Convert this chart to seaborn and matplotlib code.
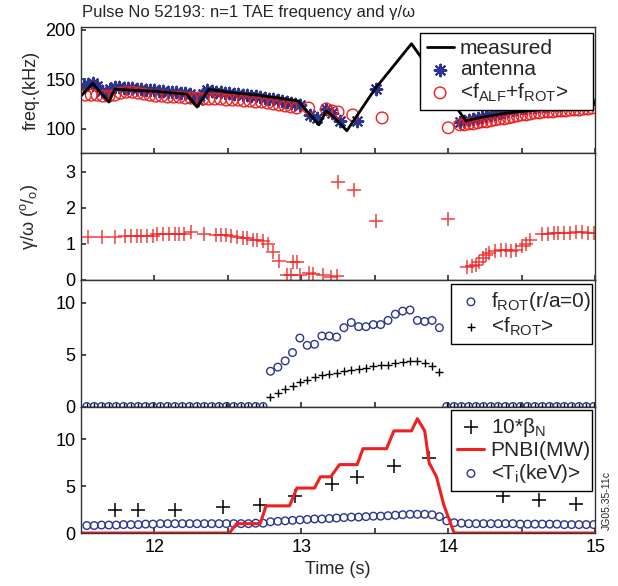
import matplotlib
matplotlib.use("Agg")
import matplotlib.pyplot as plt
import seaborn as sns

# --- panel 1: n=1 TAE frequency (kHz) ---
meas_t = [11.5, 11.58, 11.69, 11.73, 11.85, 12.0, 12.22, 12.29, 12.37, 12.5, 12.7, 12.85, 12.98,
          13.12, 13.17, 13.22, 13.31, 13.5, 13.75, 14.12, 14.2, 14.4, 14.6, 14.8, 15.0]
meas_f = [133, 146, 127, 140, 139, 138, 135, 122, 140, 137, 134, 131, 128,
          104, 118, 112, 98, 140, 186, 108, 111, 116, 119, 122, 126]

ant_t = [11.52, 11.55, 11.58, 11.61, 11.64, 11.67, 11.70, 11.73, 11.76, 11.79,
         11.82, 11.85, 11.88, 11.91, 11.94, 11.97, 12.00, 12.03, 12.06, 12.09,
         12.12, 12.15, 12.18, 12.21, 12.24, 12.27, 12.30, 12.33, 12.36, 12.39,
         12.42, 12.45, 12.48, 12.51, 12.54, 12.57, 12.60, 12.63, 12.66, 12.69,
         12.72, 12.75, 12.78, 12.81, 12.84, 12.87, 12.90, 12.93, 12.96, 12.99,
         13.06, 13.11, 13.17, 13.21, 13.26, 13.38, 13.51,
         14.08, 14.11, 14.14, 14.17, 14.20, 14.23, 14.26, 14.29, 14.32, 14.35,
         14.38, 14.41, 14.44, 14.47, 14.50, 14.53, 14.56, 14.59, 14.62, 14.65,
         14.68, 14.71, 14.74, 14.77, 14.80, 14.83, 14.86, 14.89, 14.92, 14.95, 14.98]
ant_f = [143, 145, 146, 143, 138, 136, 140, 142, 142, 141,
         141, 141, 140, 140, 139, 139, 139, 138, 138, 137,
         137, 137, 136, 136, 135, 131, 129, 135, 139, 138,
         137, 137, 136, 136, 135, 135, 134, 134, 133, 133,
         132, 131, 130, 130, 129, 128, 127, 126, 125, 124,
         114, 111, 120, 116, 108, 108, 140,
         107, 108, 109, 110, 111, 112, 113, 114, 115, 116,
         117, 118, 119, 120, 121, 121, 122, 122, 123, 123,
         123, 124, 124, 124, 125, 125, 125, 126, 126, 127, 127]

alf_t = [11.53, 11.57, 11.61, 11.65, 11.69, 11.73, 11.77, 11.81, 11.85, 11.89,
         11.93, 11.97, 12.01, 12.05, 12.09, 12.13, 12.17, 12.21, 12.25, 12.29,
         12.33, 12.37, 12.41, 12.45, 12.49, 12.53, 12.57, 12.61, 12.65, 12.69,
         12.73, 12.77, 12.81, 12.85, 12.89, 12.93, 12.97,
         13.05, 13.17, 13.21, 13.25, 13.35, 13.55, 14.00,
         14.08, 14.11, 14.14, 14.17, 14.20, 14.23, 14.26, 14.29, 14.32, 14.35,
         14.38, 14.41, 14.44, 14.47, 14.50, 14.53, 14.56, 14.59, 14.62, 14.65,
         14.68, 14.71, 14.74, 14.77, 14.80, 14.83, 14.86, 14.89, 14.92, 14.95, 14.98]
alf_f = [134, 134, 134, 133, 133, 134, 136, 137, 137, 136,
         135, 134, 133, 133, 132, 132, 132, 131, 131, 131,
         130, 130, 130, 130, 129, 129, 129, 128, 128, 127,
         127, 126, 125, 124, 123, 122, 121,
         121, 120, 118, 117, 114, 111, 101,
         104, 104, 105, 105, 106, 107, 107, 108, 109, 110,
         110, 111, 112, 113, 114, 114, 115, 116, 116, 117,
         117, 117, 118, 118, 118, 119, 119, 119, 120, 120, 121]

# --- panel 2: gamma/omega (%) ---
gam_t = [11.55, 11.64, 11.73, 11.80, 11.84, 11.88, 11.91, 11.95, 11.99, 12.02,
         12.06, 12.10, 12.14, 12.17, 12.20, 12.25, 12.34, 12.42, 12.45, 12.49,
         12.52, 12.56, 12.60, 12.63, 12.67, 12.70, 12.74, 12.77, 12.81, 12.85,
         12.90, 12.93, 12.94, 12.97, 12.99, 13.05, 13.08, 13.15, 13.20, 13.24,
         13.25, 13.36, 13.51, 14.00, 14.13, 14.16, 14.19, 14.21, 14.24, 14.26,
         14.28, 14.32, 14.36, 14.39, 14.43, 14.46, 14.50, 14.53, 14.56, 14.64,
         14.68, 14.72, 14.75, 14.79, 14.83, 14.87, 14.91, 14.95, 14.99]
gam_w = [1.18, 1.18, 1.18, 1.23, 1.23, 1.23, 1.22, 1.22, 1.22, 1.28,
         1.28, 1.28, 1.28, 1.28, 1.28, 1.33, 1.28, 1.25, 1.25, 1.24,
         1.22, 1.18, 1.17, 1.15, 1.12, 1.10, 1.08, 1.0, 0.78, 0.52,
         0.15, 0.15, 0.5, 0.5, 0.15, 0.18, 0.17, 0.14, 0.08, 0.12,
         2.7, 2.5, 1.63, 1.7, 0.35, 0.38, 0.42, 0.5, 0.6, 0.7,
         0.75, 0.8, 0.82, 0.82, 0.8, 0.82, 0.95, 1.0, 1.1, 1.27,
         1.28, 1.3, 1.3, 1.3, 1.3, 1.32, 1.32, 1.3, 1.3]

# --- panels 3 and 4: profile time base ---
prof_t = [11.54, 11.59, 11.64, 11.69, 11.74, 11.79, 11.84, 11.89, 11.94, 11.99,
          12.04, 12.09, 12.14, 12.19, 12.24, 12.29, 12.34, 12.39, 12.44, 12.49,
          12.54, 12.59, 12.64, 12.69, 12.74, 12.79, 12.84, 12.89, 12.94, 12.99,
          13.04, 13.09, 13.14, 13.19, 13.24, 13.29, 13.34, 13.39, 13.44, 13.49,
          13.54, 13.59, 13.64, 13.69, 13.74, 13.79, 13.84, 13.89, 13.94, 13.99,
          14.04, 14.09, 14.14, 14.19, 14.24, 14.29, 14.34, 14.39, 14.44, 14.49,
          14.54, 14.59, 14.64, 14.69, 14.74, 14.79, 14.84, 14.89, 14.94, 14.99]
frot_core = [0.0] * 25 + [3.4, 3.8, 4.4, 5.2, 6.6, 5.9, 6.0, 6.8, 6.8, 6.7, 7.6, 8.1,
                          7.7, 7.7, 7.9, 7.9, 8.3, 8.9, 9.2, 9.3, 8.3, 8.2, 8.3, 7.6] + [0.0] * 21
frot_avg = [0.0] * 25 + [0.9, 1.3, 1.7, 2.0, 2.4, 2.6, 2.8, 3.0, 3.1, 3.2, 3.4, 3.5,
                         3.6, 3.7, 3.9, 4.0, 4.0, 4.2, 4.3, 4.4, 4.4, 4.2, 3.9, 3.3] + [0.0] * 21
ti_avg = [0.8, 0.8, 0.85, 0.85, 0.85, 0.9, 0.9, 0.9, 0.95, 0.95,
          1.0, 1.0, 1.0, 1.0, 1.0, 1.0, 1.0, 1.0, 1.0, 1.0,
          1.0, 1.0, 1.0, 1.05, 1.05, 1.2, 1.25, 1.3, 1.35, 1.4,
          1.45, 1.5, 1.5, 1.55, 1.6, 1.65, 1.7, 1.7, 1.75, 1.8,
          1.8, 1.85, 1.9, 1.95, 2.0, 2.0, 2.0, 1.95, 1.75, 1.3,
          1.1, 1.05, 1.0, 1.0, 1.0, 1.0, 1.0, 1.0, 1.0, 0.95,
          0.95, 0.95, 0.95, 0.95, 0.95, 0.9, 0.9, 0.9, 0.9, 0.9]

beta_t = [11.73, 11.89, 12.14, 12.47, 12.72, 12.96, 13.21, 13.38, 13.63, 13.87, 14.37, 14.62, 14.87]
beta_n10 = [2.5, 2.5, 2.5, 2.8, 3.0, 4.0, 5.2, 6.0, 7.1, 8.0, 3.9, 3.5, 3.1]

pnbi_t = [11.5, 12.51, 12.56, 12.72, 12.76, 12.92, 12.97, 13.09, 13.13, 13.2, 13.26, 13.38,
          13.42, 13.58, 13.63, 13.75, 13.79, 13.84, 13.87, 13.92, 13.97, 14.04, 15.0]
pnbi_mw = [0, 0, 1.0, 1.0, 2.9, 2.9, 4.8, 4.8, 6.0, 6.0, 7.3, 7.3,
           9.0, 9.0, 10.9, 10.9, 12.2, 10.9, 7.5, 6.0, 3.0, 0, 0]

x_ticks = [12, 12.5, 13, 13.5, 14, 14.5, 15]
x_ticklabels = ["12", "", "13", "", "14", "", "15"]

NAVY = "#2b3590"
RED = "#ee2020"

sns.set_theme(style="ticks")
plt.rcParams.update({
    "font.family": ["Liberation Sans", "DejaVu Sans"],
    "mathtext.fontset": "custom",
    "mathtext.rm": "Liberation Sans",
    "mathtext.it": "Liberation Sans:italic",
    "xtick.direction": "in",
    "ytick.direction": "in",
    "xtick.major.size": 3.5,
    "ytick.major.size": 3.5,
    "axes.edgecolor": "#333333",
    "axes.linewidth": 1.0,
    "xtick.labelsize": 13,
    "ytick.labelsize": 13,
})

fig, axes = plt.subplots(4, 1, sharex=True, figsize=(6.18, 5.86), dpi=100,
                         gridspec_kw=dict(hspace=0))
fig.subplots_adjust(left=0.131, right=0.963, top=0.954, bottom=0.0904)
ax1, ax2, ax3, ax4 = axes

leg_kw = dict(loc="upper left", mode="expand", borderaxespad=0, fontsize=15, frameon=True,
              fancybox=False, framealpha=1, edgecolor="black", handlelength=1.3,
              handletextpad=0.3, labelspacing=0.1, borderpad=0.3)

# panel 1
sns.lineplot(x=meas_t, y=meas_f, color="black", lw=2, sort=False, estimator=None, ax=ax1,
             label="measured")
sns.scatterplot(x=ant_t, y=ant_f, marker=(8, 2, 0), s=70, color=NAVY, linewidth=1.5, ax=ax1,
                label="antenna")
sns.scatterplot(x=alf_t, y=alf_f, marker="o", s=70, facecolor="none", edgecolor=RED,
                linewidth=1.0, ax=ax1, label=r"<f$_{\mathrm{ALF}}$+f$_{\mathrm{ROT}}$>")
ax1.set_ylim(75, 203)
ax1.set_yticks([100, 150, 200])
ax1.set_ylabel("freq.(kHz)", fontsize=13)
ax1.legend(bbox_to_anchor=(0.66, 0.953, 0.335, 0), **leg_kw)

# panel 2
sns.scatterplot(x=gam_t, y=gam_w, marker="+", s=110, color=RED, linewidth=1.1, alpha=0.85, ax=ax2)
ax2.set_ylim(0, 3.5)
ax2.set_yticks([0, 1, 2, 3])
ax2.set_ylabel(r"γ/ω ($^{\mathrm{o}}$/$_{\mathrm{o}}$)", fontsize=13)

# panel 3
sns.scatterplot(x=prof_t, y=frot_core, marker="o", s=30, facecolor="none", edgecolor=NAVY,
                linewidth=1.0, ax=ax3, label=r"f$_{\mathrm{ROT}}$(r/a=0)")
sns.scatterplot(x=prof_t, y=frot_avg, marker="+", s=40, color="black", linewidth=1.0, ax=ax3,
                label=r"<f$_{\mathrm{ROT}}$>")
ax3.set_ylim(0, 12.2)
ax3.set_yticks([0, 5, 10])
ax3.legend(bbox_to_anchor=(0.72, 0.968, 0.274, 0), **leg_kw)

# panel 4
sns.scatterplot(x=prof_t, y=ti_avg, marker="o", s=30, facecolor="none", edgecolor=NAVY,
                linewidth=1.0, ax=ax4, label=r"<T$_{\mathrm{i}}$(keV)>")
sns.lineplot(x=pnbi_t, y=pnbi_mw, color=RED, lw=2.2, sort=False, estimator=None, ax=ax4,
             label="PNBI(MW)")
sns.scatterplot(x=beta_t, y=beta_n10, marker="+", s=110, color="black", linewidth=1.1, ax=ax4,
                label=r"10*β$_{\mathrm{N}}$")
ax4.set_ylim(0, 13.5)
ax4.set_yticks([0, 5, 10])
h, l = ax4.get_legend_handles_labels()
order = [2, 1, 0]
ax4.legend([h[i] for i in order], [l[i] for i in order],
           bbox_to_anchor=(0.72, 0.976, 0.274, 0), **leg_kw)

for ax in axes:
    ax.set_xlim(11.5, 15)
    ax.set_xticks(x_ticks)
    ax.tick_params(axis="both", which="both", top=False, right=False, pad=4, colors="#333333",
                   labelcolor="black")
    for sp in ax.spines.values():
        sp.set_visible(True)
ax4.set_xticklabels(x_ticklabels)
ax4.set_xlabel("Time (s)", fontsize=13)
fig.align_ylabels(axes)

fig.text(0.133, 0.979, "Pulse No 52193: n=1 TAE frequency and γ/ω", fontsize=12,
         ha="left", va="center")
fig.text(0.982, 0.146, "JG05.35-11c", fontsize=7.5, rotation=90, ha="center", va="center")

fig.savefig("out.png", dpi=100)
